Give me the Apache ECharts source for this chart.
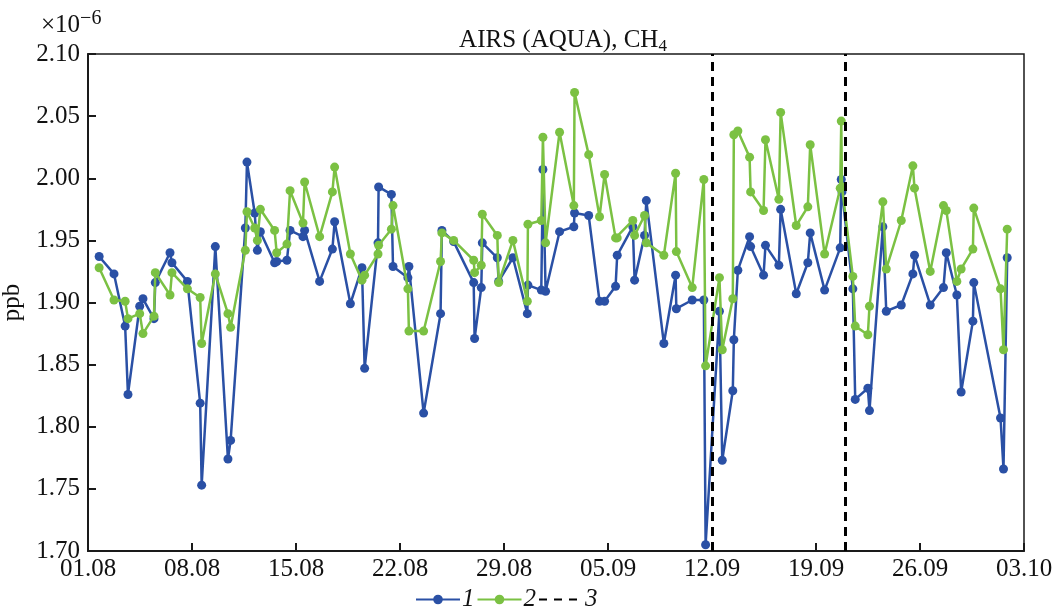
<!DOCTYPE html>
<html>
<head>
<meta charset="utf-8">
<script src="https://cdn.jsdelivr.net/npm/echarts@6/dist/echarts.min.js"></script>
<style>
  html, body { margin: 0; padding: 0; background: #fff; }
  #chart { width: 1054px; height: 616px; }
</style>
</head>
<body>
<div id="chart"></div>
<script>
// days counted from 01.08 (0 = 01.08, 31 = 01.09)
const days = [
  0.75, 1.75, 2.5, 2.69, 3.48, 3.7, 4.44, 4.53, 5.52, 5.65,
  6.69, 7.55, 7.65, 8.57, 9.42, 9.6, 10.59, 10.7, 11.22, 11.4,
  11.6, 12.56, 12.7, 13.39, 13.6, 14.47, 14.58, 15.59, 16.45, 16.6,
  17.66, 18.44, 18.62, 19.52, 19.56, 20.42, 20.53, 21.53, 21.6, 22.59,
  23.73, 23.82, 24.61, 25.96, 26.02, 26.47, 26.54, 27.55, 27.64, 28.6,
  29.57, 29.61, 30.51, 30.62, 30.8, 31.74, 32.7, 32.75, 33.7, 34.43,
  34.77, 35.51, 35.62, 36.67, 36.79, 37.46, 37.58, 38.76, 39.55, 39.6,
  40.67, 41.45, 41.57, 42.5, 42.69, 43.4, 43.47, 43.74, 44.53, 44.6,
  45.47, 45.6, 46.5, 46.62, 47.67, 48.45, 48.61, 49.58, 50.63, 50.7,
  50.75, 51.48, 51.64, 52.49, 52.6, 53.5, 53.73, 54.74, 55.52, 55.63,
  56.69, 57.58, 57.77, 58.48, 58.77, 59.56, 59.62, 61.42, 61.62, 61.87
];

// series 1 (blue), x10^-6 ppb
const series1 = [
  1.937, 1.923, 1.881, 1.826, 1.897, 1.903, 1.887, 1.916, 1.940, 1.932,
  1.917, 1.819, 1.753, 1.945, 1.774, 1.789, 1.960, 2.013, 1.972, 1.942,
  1.957, 1.932, 1.933, 1.934, 1.958, 1.953, 1.958, 1.917, 1.943, 1.965,
  1.899, 1.928, 1.847, 1.948, 1.993, 1.987, 1.929, 1.920, 1.929, 1.811,
  1.891, 1.958, 1.949, 1.916, 1.871, 1.912, 1.948, 1.936, 1.917, 1.936,
  1.891, 1.914, 1.910, 2.007, 1.909, 1.957, 1.961, 1.972, 1.970, 1.901,
  1.901, 1.913, 1.938, 1.961, 1.918, 1.954, 1.982, 1.867, 1.922, 1.895,
  1.902, 1.902, 1.705, 1.893, 1.773, 1.829, 1.870, 1.926, 1.953, 1.945,
  1.922, 1.946, 1.930, 1.975, 1.907, 1.932, 1.956, 1.910, 1.944, 1.999,
  1.989, 1.911, 1.822, 1.831, 1.813, 1.961, 1.893, 1.898, 1.923, 1.938,
  1.898, 1.912, 1.940, 1.906, 1.828, 1.885, 1.916, 1.807, 1.766, 1.936
];

// series 2 (green)
const series2 = [
  1.928, 1.902, 1.901, 1.887, 1.891, 1.875, 1.889, 1.924, 1.906, 1.924,
  1.911, 1.904, 1.867, 1.923, 1.891, 1.880, 1.942, 1.973, 1.960, 1.950,
  1.975, 1.958, 1.940, 1.947, 1.990, 1.964, 1.997, 1.953, 1.989, 2.009,
  1.939, 1.918, 1.922, 1.939, 1.946, 1.959, 1.978, 1.911, 1.877, 1.877,
  1.933, 1.956, 1.950, 1.934, 1.924, 1.930, 1.971, 1.954, 1.916, 1.950,
  1.901, 1.963, 1.966, 2.033, 1.948, 2.037, 1.978, 2.069, 2.019, 1.969,
  2.003, 1.952, 1.952, 1.966, 1.954, 1.970, 1.948, 1.938, 2.004, 1.941,
  1.912, 1.999, 1.849, 1.920, 1.862, 1.903, 2.035, 2.038, 2.017, 1.989,
  1.974, 2.031, 1.983, 2.053, 1.962, 1.977, 2.027, 1.939, 1.992, 2.046,
  1.993, 1.921, 1.881, 1.874, 1.897, 1.981, 1.927, 1.966, 2.010, 1.992,
  1.925, 1.978, 1.974, 1.917, 1.927, 1.943, 1.976, 1.911, 1.862, 1.959
];

// dashed markers (3): 12.09 and 21.09
const dashDays = [42, 51];

// tick labels every 7 days from 01.08
const tickLabels = ['01.08', '08.08', '15.08', '22.08', '29.08', '05.09', '12.09', '19.09', '26.09', '03.10'];

const FONT = '"Liberation Serif", "DejaVu Serif", serif';
const BLUE = '#2a50a5';
const GREEN = '#7bc143';

const chart = echarts.init(document.getElementById('chart'));

const pairs = (ys) => days.map((d, i) => [d, ys[i]]);

const option = {
  backgroundColor: '#fff',
  animation: false,
  title: [{
    text: 'AIRS (AQUA), CH{sub|4}',
    left: 558,
    top: 21,
    textAlign: 'center',
    textStyle: {
      fontFamily: FONT, fontSize: 25, fontWeight: 'normal', color: '#111',
      rich: { sub: { fontFamily: FONT, fontSize: 17, verticalAlign: 'bottom', padding: [12, 0, 0, 0] } }
    }
  }, {
    text: '×10{sup|−6}',
    left: 36,
    top: 4,
    textStyle: {
      fontFamily: FONT, fontSize: 25, fontWeight: 'normal', color: '#111',
      rich: { sup: { fontFamily: FONT, fontSize: 20, color: '#111', verticalAlign: 'top', padding: [0, 0, 12, 0] } }
    }
  }],
  legend: {
    bottom: -1,
    left: 410,
    itemWidth: 44,
    itemHeight: 12,
    itemGap: 2,
    textStyle: { fontFamily: FONT, fontSize: 25, fontStyle: 'italic', color: '#111', padding: [0, 0, 0, -3] },
    data: ['1', '2', { name: '3', itemStyle: { opacity: 0 } }]
  },
  grid: {
    left: 88, right: 30, top: 54, bottom: 65,
    outerBoundsMode: 'none',
    show: true, borderColor: '#1a1a1a', borderWidth: 1.5
  },
  xAxis: {
    type: 'value',
    min: 0,
    max: 63,
    interval: 7,
    axisLine: { lineStyle: { color: '#1a1a1a', width: 2 } },
    axisTick: { inside: true, length: 8, lineStyle: { color: '#1a1a1a', width: 2 } },
    axisLabel: {
      fontFamily: FONT, fontSize: 25, color: '#111', margin: 6,
      formatter: (v) => tickLabels[Math.round(v / 7)]
    },
    splitLine: { show: false }
  },
  yAxis: {
    type: 'value',
    min: 1.7,
    max: 2.1,
    interval: 0.05,
    name: 'ppb',
    nameLocation: 'middle',
    nameGap: 56,
    nameRotate: 90,
    nameTextStyle: { fontFamily: FONT, fontSize: 25, color: '#111' },
    axisLine: { lineStyle: { color: '#1a1a1a', width: 2 } },
    axisTick: { inside: true, length: 8, lineStyle: { color: '#1a1a1a', width: 2 } },
    axisLabel: {
      fontFamily: FONT, fontSize: 25, color: '#111', margin: 8,
      formatter: (v) => v.toFixed(2)
    },
    splitLine: { show: false }
  },
  series: [{
    name: '1',
    type: 'line',
    data: pairs(series1),
    symbol: 'circle',
    symbolSize: 9,
    color: BLUE,
    lineStyle: { color: BLUE, width: 2.5 },
    itemStyle: { color: BLUE },
    z: 2
  }, {
    name: '2',
    type: 'line',
    data: pairs(series2),
    symbol: 'circle',
    symbolSize: 9,
    color: GREEN,
    lineStyle: { color: GREEN, width: 2.5 },
    itemStyle: { color: GREEN },
    z: 3
  }, {
    name: '3',
    type: 'line',
    data: [],
    symbol: 'none',
    color: '#000',
    lineStyle: { color: '#000', width: 3.5, type: [8, 7] },
    markLine: {
      silent: true,
      symbol: 'none',
      label: { show: false },
      lineStyle: { color: '#000', width: 3, type: [9, 6] },
      data: dashDays.map((d) => ({ xAxis: d }))
    },
    z: 4
  }]
};

chart.setOption(option);
</script>
</body>
</html>
